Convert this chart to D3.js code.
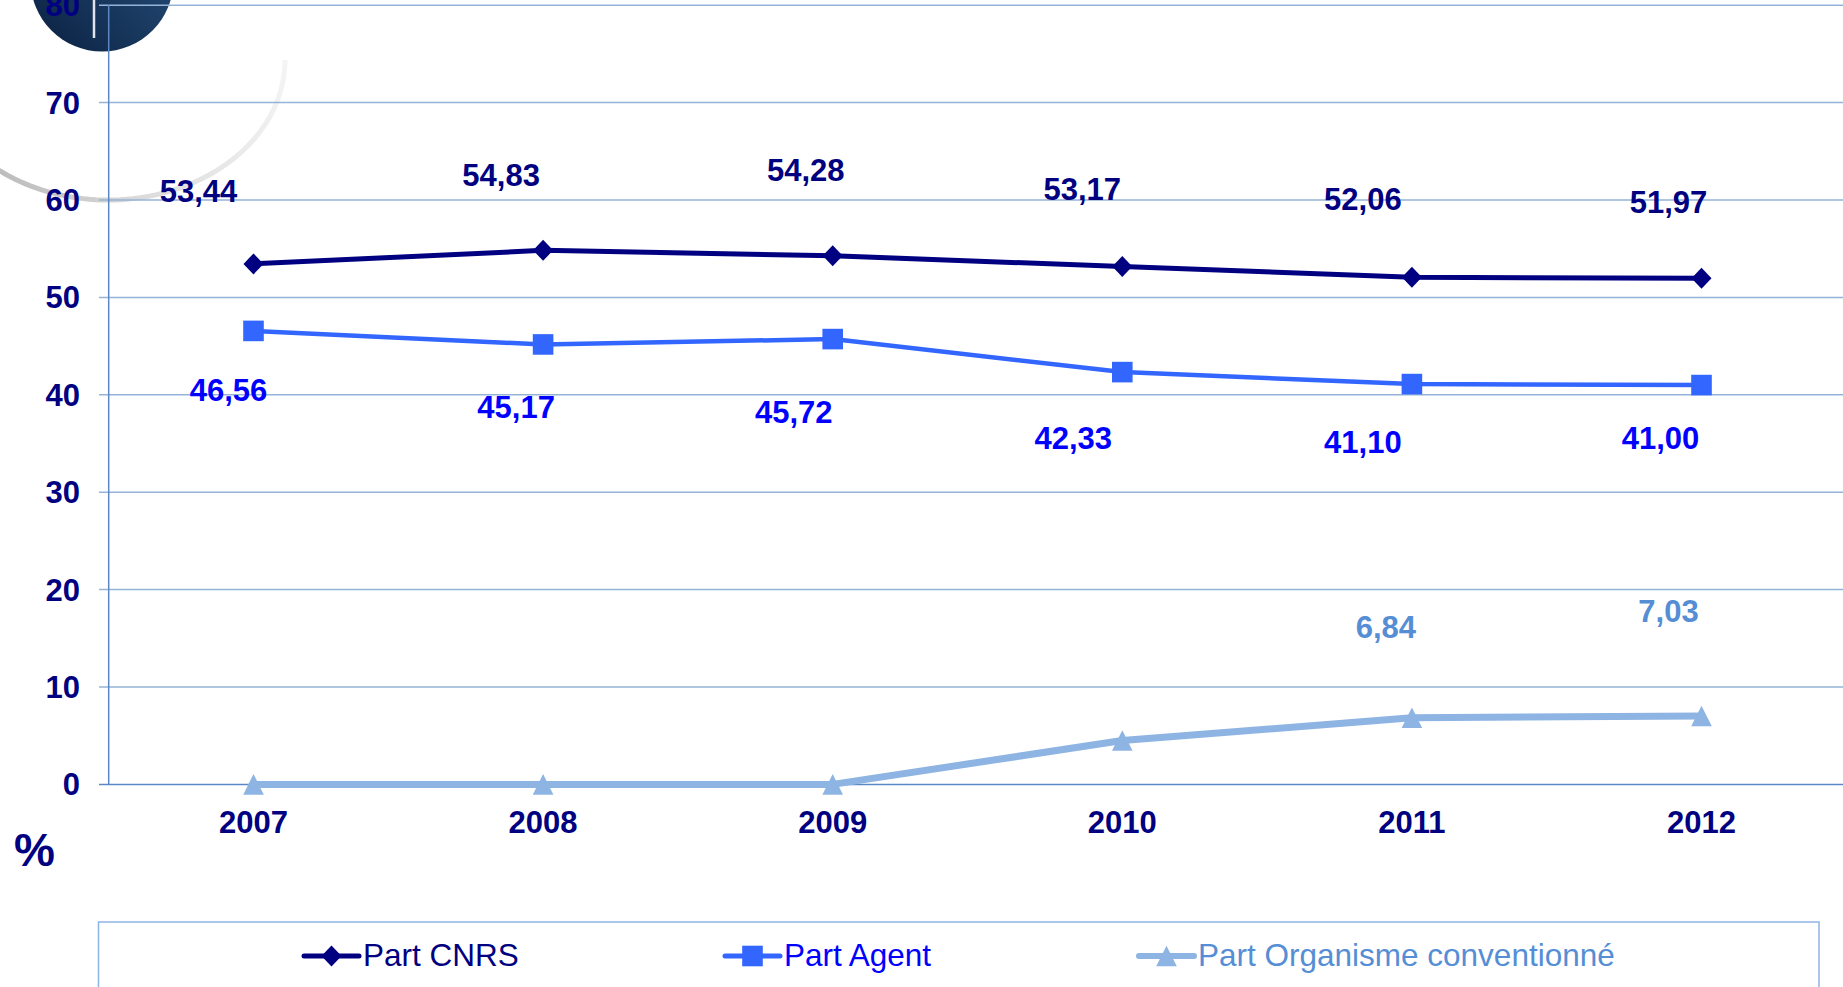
<!DOCTYPE html>
<html>
<head>
<meta charset="utf-8">
<script src="https://cdn.jsdelivr.net/npm/d3@7"></script>
<style>
  html, body { margin: 0; padding: 0; background: #ffffff; overflow: hidden; }
  svg { display: block; }
  text { font-family: "Liberation Sans", Arial, sans-serif; }
</style>
</head>
<body>
<svg id="chart" width="1843" height="987"></svg>
<script>
// ---------- DATA ----------
const years = ["2007", "2008", "2009", "2010", "2011", "2012"];
const partCNRS = [53.44, 54.83, 54.28, 53.17, 52.06, 51.97];
const partAgent = [46.56, 45.17, 45.72, 42.33, 41.10, 41.00];
const partOrganisme = [0, 0, 0, 4.50, 6.84, 7.03];
const showOrganismeLabel = [false, false, false, false, true, true];
const yTicks = [0, 10, 20, 30, 40, 50, 60, 70, 80];
const seriesNames = ["Part CNRS", "Part Agent", "Part Organisme conventionné"];
const unitLabel = "%";

// ---------- LAYOUT (label placement offsets in px, relative to point) ----------
const cnrsLabelOffset = [[-55, -62], [-42, -64], [-27, -75], [-40, -67], [-49, -67], [-33, -65]];
const agentLabelOffset = [[-25, 70], [-27, 74], [-39, 84], [-49, 77], [-49, 69], [-41, 64]];
const orgLabelOffset = [[0, 0], [0, 0], [0, 0], [0, 0], [-26, -80], [-33, -94]];

const colors = {
  cnrsLine: "#000080", cnrsText: "#000080",
  agentLine: "#3366ff", agentText: "#0000ff",
  orgLine: "#8db4e2", orgText: "#558ed5",
  tick: "#000080", grid: "#95b3d7", axis: "#5b87c6", legendBorder: "#8eb4e3"
};

const svg = d3.select("#chart");
const defs = svg.append("defs");

// ---------- Background decoration ----------
const lg = defs.append("linearGradient").attr("id", "logoGrad")
  .attr("x1", "0").attr("y1", "1").attr("x2", "1").attr("y2", "0");
lg.append("stop").attr("offset", "0%").attr("stop-color", "#0a2040");
lg.append("stop").attr("offset", "100%").attr("stop-color", "#2a5582");

const ag = defs.append("linearGradient").attr("id", "arcGrad")
  .attr("gradientUnits", "userSpaceOnUse")
  .attr("x1", 0).attr("y1", 170).attr("x2", 285).attr("y2", 60);
ag.append("stop").attr("offset", "0%").attr("stop-color", "#bdbdbd");
ag.append("stop").attr("offset", "45%").attr("stop-color", "#dedede");
ag.append("stop").attr("offset", "100%").attr("stop-color", "#f4f4f4");

const arcPath = d3.path();
(function () {
  const cx = 108, cy = 60, rx = 177, ry = 140;
  for (let a = 142; a >= 0; a -= 2) {
    const t = a * Math.PI / 180;
    const px = cx + rx * Math.cos(t), py = cy + ry * Math.sin(t);
    if (a === 142) arcPath.moveTo(px, py); else arcPath.lineTo(px, py);
  }
})();
svg.append("path").attr("d", arcPath.toString())
  .attr("fill", "none").attr("stroke", "url(#arcGrad)").attr("stroke-width", 5);

svg.append("circle").attr("cx", 102).attr("cy", -20).attr("r", 71.5)
  .attr("fill", "url(#logoGrad)");
svg.append("line").attr("x1", 94).attr("x2", 94).attr("y1", 0).attr("y2", 38)
  .attr("stroke", "#dfe4ea").attr("stroke-width", 2.5);

// ---------- Scales ----------
const x = d3.scalePoint().domain(years).range([108.7, 1846.3]).padding(0.5);
const y = d3.scaleLinear().domain([0, 80]).range([784.4, 5.2]);

// Gridlines
svg.append("g").selectAll("line").data(yTicks).join("line")
  .attr("x1", 99).attr("x2", 1843)
  .attr("y1", d => y(d)).attr("y2", d => y(d))
  .attr("stroke", d => d === 0 ? colors.axis : colors.grid)
  .attr("stroke-width", 1.5);

// Y axis line
svg.append("line").attr("x1", 108.7).attr("x2", 108.7)
  .attr("y1", y(80)).attr("y2", y(0))
  .attr("stroke", colors.axis).attr("stroke-width", 1.5);

// Y tick labels
svg.append("g").selectAll("text").data(yTicks).join("text")
  .attr("x", 80).attr("y", d => y(d) + 11)
  .attr("text-anchor", "end")
  .attr("font-size", 31).attr("font-weight", "bold")
  .attr("fill", colors.tick)
  .text(d => d);

// X tick labels
svg.append("g").selectAll("text").data(years).join("text")
  .attr("x", d => x(d)).attr("y", 833)
  .attr("text-anchor", "middle")
  .attr("font-size", 31).attr("font-weight", "bold")
  .attr("fill", colors.tick)
  .text(d => d);

// Unit label
svg.append("text").attr("x", 14).attr("y", 866)
  .attr("font-size", 46).attr("font-weight", "bold")
  .attr("fill", colors.tick).text(unitLabel);

// ---------- Series ----------
const fmt = v => d3.format(".2f")(v).replace(".", ",");
const diamondPath = "M0,-10.5L10,0L0,10.5L-10,0Z";
const squarePath = "M-10.3,-10.3H10.3V10.3H-10.3Z";
const trianglePath = "M0,-10.3L10.3,10.3L-10.3,10.3Z";

const series = [
  { values: partOrganisme, line: colors.orgLine, text: colors.orgText, width: 7, marker: trianglePath, offsets: orgLabelOffset, show: showOrganismeLabel },
  { values: partAgent, line: colors.agentLine, text: colors.agentText, width: 4.5, marker: squarePath, offsets: agentLabelOffset, show: years.map(() => true) },
  { values: partCNRS, line: colors.cnrsLine, text: colors.cnrsText, width: 5, marker: diamondPath, offsets: cnrsLabelOffset, show: years.map(() => true) }
];

const lineGen = d3.line().x((d, i) => x(years[i])).y(d => y(d));

series.forEach(s => {
  const g = svg.append("g");
  g.append("path").datum(s.values).attr("d", lineGen)
    .attr("fill", "none").attr("stroke", s.line).attr("stroke-width", s.width)
    .attr("stroke-linejoin", "round");
  g.selectAll("path.m").data(s.values).join("path").attr("class", "m")
    .attr("d", s.marker)
    .attr("transform", (d, i) => `translate(${x(years[i])},${y(d)})`)
    .attr("fill", s.line);
  const pts = s.values.map((v, i) => ({ v, i })).filter(p => s.show[p.i]);
  g.selectAll("text").data(pts).join("text")
    .attr("x", p => x(years[p.i]) + s.offsets[p.i][0])
    .attr("y", p => y(p.v) + s.offsets[p.i][1])
    .attr("text-anchor", "middle")
    .attr("font-size", 31).attr("font-weight", "bold")
    .attr("fill", s.text)
    .text(p => fmt(p.v));
});

// ---------- Legend ----------
svg.append("rect").attr("x", 98.5).attr("y", 922).attr("width", 1720.5).attr("height", 100)
  .attr("fill", "#ffffff").attr("stroke", colors.legendBorder).attr("stroke-width", 1.5);

const legendItems = [
  { name: seriesNames[0], line: colors.cnrsLine, text: colors.cnrsText, marker: diamondPath, width: 5, x0: 304 },
  { name: seriesNames[1], line: colors.agentLine, text: colors.agentText, marker: squarePath, width: 5, x0: 725 },
  { name: seriesNames[2], line: colors.orgLine, text: colors.orgText, marker: trianglePath, width: 6, x0: 1139 }
];
const lgG = svg.append("g").selectAll("g").data(legendItems).join("g");
lgG.append("line")
  .attr("x1", d => d.x0).attr("x2", d => d.x0 + 55)
  .attr("y1", 956).attr("y2", 956)
  .attr("stroke", d => d.line).attr("stroke-width", d => d.width).attr("stroke-linecap", "round");
lgG.append("path").attr("d", d => d.marker)
  .attr("transform", d => `translate(${d.x0 + 27.5},956)`)
  .attr("fill", d => d.line);
lgG.append("text")
  .attr("x", d => d.x0 + 59).attr("y", 966)
  .attr("font-size", 31.5)
  .attr("fill", d => d.text)
  .text(d => d.name);
</script>
</body>
</html>
